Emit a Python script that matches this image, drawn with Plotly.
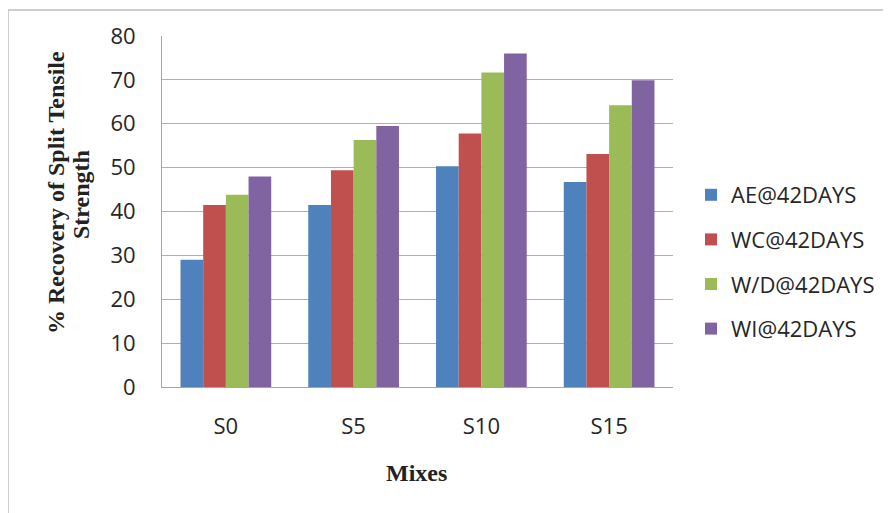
import plotly.graph_objects as go

categories = ["S0", "S5", "S10", "S15"]
series_names = ["AE@42DAYS", "WC@42DAYS", "W/D@42DAYS", "WI@42DAYS"]
ae = [29.0, 41.5, 50.3, 46.7]
wc = [41.5, 49.4, 57.8, 53.1]
wd = [43.8, 56.3, 71.7, 64.2]
wi = [48.0, 59.5, 76.0, 69.9]
colors = ["#4F81BD", "#C0504D", "#9BBB59", "#8064A2"]
y_ticks = [0, 10, 20, 30, 40, 50, 60, 70, 80]

W, H = 891, 513
OFF = 8  # page body margin offset
L, T = 162 - OFF, 36 - OFF
pw, ph = 511, 351
R, B = W - L - pw, H - T - ph

fig = go.Figure()
for name, vals, c in zip(series_names, [ae, wc, wd, wi], colors):
    fig.add_trace(go.Bar(x=categories, y=vals, name=name, marker_color=c,
                         marker_line_width=0, legendgroup=name))

def px2x(p):  # screen px -> paper x
    return (p - OFF - L) / pw

def px2y(p):  # screen px -> paper y
    return (T + ph - (p - OFF)) / ph

fig.add_shape(type="rect", xref="paper", yref="paper",
              x0=px2x(8), x1=px2x(899), y0=px2y(522), y1=px2y(10),
              line=dict(color="#bfbfbf", width=1.5), fillcolor="rgba(0,0,0,0)")

title_font = dict(family="Liberation Serif", size=24, color="#222")
fig.add_annotation(text="<b>% Recovery of Split Tensile</b>", textangle=-90,
                   xref="paper", yref="paper", x=px2x(56), y=px2y(193),
                   xanchor="center", yanchor="middle", showarrow=False, font=title_font)
fig.add_annotation(text="<b>Strength</b>", textangle=-90,
                   xref="paper", yref="paper", x=px2x(81), y=px2y(195),
                   xanchor="center", yanchor="middle", showarrow=False, font=title_font)
fig.add_annotation(text="<b>Mixes</b>",
                   xref="paper", yref="paper", x=px2x(416), y=px2y(473),
                   xanchor="center", yanchor="middle", showarrow=False, font=title_font)

tick_font = dict(family="Open Sans", size=22, color="#262626")
fig.update_layout(
    width=W, height=H,
    margin=dict(l=L, r=R, t=T, b=B),
    paper_bgcolor="white", plot_bgcolor="white",
    barmode="group", bargap=0.29, bargroupgap=0,
    showlegend=True,
    legend=dict(x=px2x(691), y=px2y(174), xanchor="left", yanchor="top",
                font=tick_font, tracegroupgap=13, itemwidth=30),
    xaxis=dict(showgrid=False, showline=True, linecolor="#a6a6a6",
               tickfont=tick_font, ticklabelstandoff=20),
    yaxis=dict(range=[0, 80], tickvals=y_ticks, showgrid=True, gridcolor="#b0b0b0",
               gridwidth=1, showline=True, linecolor="#a6a6a6", zeroline=False,
               tickfont=tick_font, ticklabelstandoff=21),
)

fig.write_html("out.html")
